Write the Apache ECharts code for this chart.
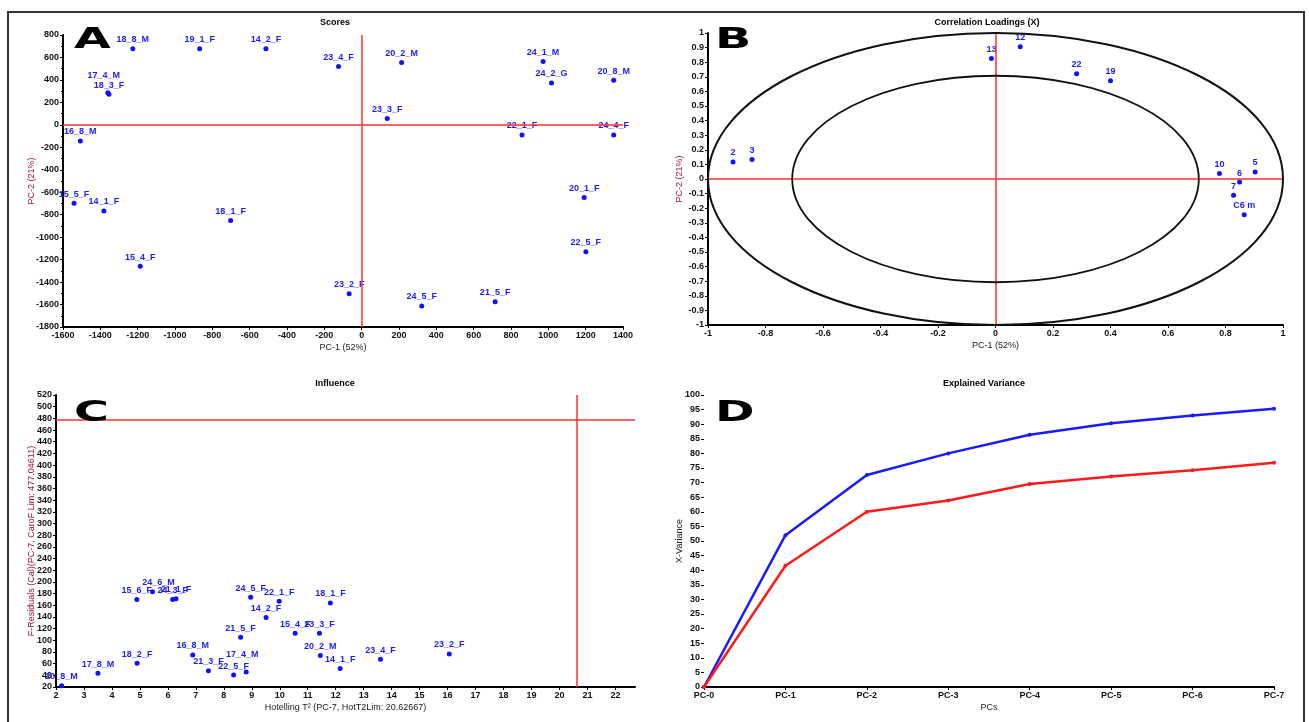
<!DOCTYPE html>
<html>
<head>
<meta charset="utf-8">
<title>PCA overview</title>
<script src="https://cdn.jsdelivr.net/npm/echarts@6/dist/echarts.min.js"></script>
<style>
  html, body { margin: 0; padding: 0; background: #fff; }
  #main { width: 1309px; height: 722px; }
</style>
</head>
<body>
<div id="main"></div>
<script>
// A - Scores
var scoreNames = ['18_8_M', '19_1_F', '14_2_F', '23_4_F', '20_2_M', '24_1_M', '24_2_G', '20_8_M',
  '17_4_M', '18_3_F', '23_3_F', '16_8_M', '22_1_F', '24_4_F', '15_5_F', '14_1_F', '18_1_F',
  '20_1_F', '15_4_F', '22_5_F', '23_2_F', '24_5_F', '21_5_F'];
var scorePc1 = [-1226, -868, -513, -124, 214, 972, 1017, 1350,
  -1360, -1354, 137, -1507, 859, 1350, -1541, -1381, -702,
  1192, -1186, 1201, -67, 322, 715];
var scorePc2 = [678, 678, 678, 519, 555, 564, 373, 397,
  285, 272, 57, -143, -90, -90, -698, -767, -851,
  -648, -1260, -1131, -1504, -1612, -1576];

// B - Correlation loadings
var loadingNames = ['2', '3', '13', '12', '22', '19', '10', '5', '6', '7', 'C6 m'];
var loadingPc1 = [-0.913, -0.847, -0.014, 0.086, 0.282, 0.40, 0.779, 0.903, 0.849, 0.828, 0.865];
var loadingPc2 = [0.117, 0.133, 0.826, 0.906, 0.721, 0.673, 0.037, 0.048, -0.021, -0.112, -0.245];

// C - Influence
var influenceNames = ['20_8_M', '17_8_M', '18_2_F', '15_6_F', '24_6_M', '24_3_F', '21_1_F',
  '24_5_F', '22_1_F', '18_1_F', '14_2_F', '21_5_F', '15_4_F', '23_3_F', '16_8_M', '21_3_F',
  '22_5_F', '17_4_M', '20_2_M', '14_1_F', '23_4_F', '23_2_F'];
var influenceT2 = [2.2, 3.5, 4.9, 4.89, 5.45, 6.17, 6.29,
  8.96, 9.98, 11.81, 9.51, 8.6, 10.55, 11.42, 6.89, 7.45,
  8.35, 8.8, 11.45, 12.16, 13.6, 16.06];
var influenceRes = [22, 43.5, 60.6, 170, 183, 170, 171,
  173.6, 167, 164, 139, 105, 112, 112, 74.8, 48,
  40.5, 45.7, 74, 51.5, 67.6, 76.7];
var resLimit = 477.04611;
var t2Limit = 20.62667;

// D - Explained variance
var pcLabels = ['PC-0', 'PC-1', 'PC-2', 'PC-3', 'PC-4', 'PC-5', 'PC-6', 'PC-7'];
var varCalibration = [0, 52, 72.6, 80, 86.4, 90.3, 93, 95.3];
var varValidation = [0, 41.5, 60, 63.9, 69.5, 72.1, 74.2, 76.8];

var FONT = 'Liberation Sans';
var chart = echarts.init(document.getElementById('main'));

// 轴的通用样式
var axisStyle = function(extra) {
  var base = {
    axisLine: { onZero: false, lineStyle: { color: '#000', width: 2 } },
    axisTick: { show: true, length: 3, lineStyle: { color: '#000' } },
    axisLabel: {
      fontSize: 9, fontWeight: 'bold', color: '#111', fontFamily: FONT, margin: 4,
      formatter: function(v) { return String(v); }
    },
    splitLine: { show: false },
    nameLocation: 'middle',
    nameMoveOverlap: false,
    nameTextStyle: { fontSize: 9, color: '#222', fontFamily: FONT }
  };
  return Object.assign(base, extra);
};

var zip = function(xs, ys, names) {
  return xs.map(function(x, i) { return [x, ys[i], names[i]]; });
};

var pointLabel = {
  show: true,
  position: 'top',
  distance: 2,
  formatter: function(p) { return p.value[2]; },
  fontSize: 9,
  fontWeight: 'bold',
  color: '#1c1cff',
  fontFamily: FONT
};

// 个别重叠标签往上挪一点
var labelShift = { '17_4_M': [-4, -8], '24_6_M': [6, 0] };
var withShift = function(rows) {
  return rows.map(function(r) {
    var off = labelShift[r[2]];
    return off ? { value: r, label: { offset: off } } : r;
  });
};

var crossLines = function(data) {
  return {
    silent: true,
    symbol: 'none',
    label: { show: false },
    lineStyle: { color: '#ff3030', width: 1.5, type: 'solid' },
    data: data
  };
};

var titleStyle = { fontSize: 9, fontWeight: 'bold', color: '#000', fontFamily: FONT };
var redName = { fontSize: 9, color: '#a0103a', fontFamily: FONT };

var option = {
  animation: false,
  backgroundColor: '#fff',
  title: [
    { text: 'Scores', left: 330, top: 13, textAlign: 'center', textStyle: titleStyle },
    { text: 'Correlation Loadings (X)', left: 982, top: 13, textAlign: 'center', textStyle: titleStyle },
    { text: 'Influence', left: 330, top: 374, textAlign: 'center', textStyle: titleStyle },
    { text: 'Explained Variance', left: 979, top: 374, textAlign: 'center', textStyle: titleStyle }
  ],
  grid: [
    { left: 63, top: 35, width: 560, height: 292 },
    { left: 708, top: 33, width: 575, height: 292 },
    { left: 56, top: 395, width: 579, height: 292 },
    { left: 704, top: 395, width: 570, height: 292 }
  ],
  xAxis: [
    axisStyle({ gridIndex: 0, type: 'value', min: -1600, max: 1400, interval: 200,
      name: 'PC-1 (52%)', nameGap: 16 }),
    axisStyle({ gridIndex: 1, type: 'value', min: -1, max: 1, interval: 0.2,
      name: 'PC-1 (52%)', nameGap: 16 }),
    axisStyle({ gridIndex: 2, type: 'value', min: 2, max: 22.7, interval: 1,
      name: 'Hotelling T\u00B2 (PC-7, HotT2Lim: 20.62667)', nameGap: 16,
      axisLabel: { fontSize: 9, fontWeight: 'bold', color: '#111', fontFamily: FONT, margin: 4, showMaxLabel: false } }),
    axisStyle({ gridIndex: 3, type: 'category', data: pcLabels, boundaryGap: false,
      name: 'PCs', nameGap: 16,
      axisLabel: { fontSize: 9, fontWeight: 'bold', color: '#111', fontFamily: FONT, margin: 4 } })
  ],
  yAxis: [
    axisStyle({ gridIndex: 0, type: 'value', min: -1800, max: 800, interval: 200,
      name: 'PC-2 (21%)', nameGap: 27,
      minorTick: { show: true, splitNumber: 2, length: 2, lineStyle: { color: '#000' } },
      nameTextStyle: redName }),
    axisStyle({ gridIndex: 1, type: 'value', min: -1, max: 1, interval: 0.1,
      name: 'PC-2 (21%)', nameGap: 24, nameTextStyle: redName }),
    axisStyle({ gridIndex: 2, type: 'value', min: 20, max: 520, interval: 20,
      name: 'F-Residuals (Cal)(PC-7, CaroF Lim: 477.04611)', nameGap: 20, nameTextStyle: redName }),
    axisStyle({ gridIndex: 3, type: 'value', min: 0, max: 100, interval: 5,
      name: 'X-Variance', nameGap: 20 })
  ],
  series: [
    {
      name: 'Scores', type: 'scatter', xAxisIndex: 0, yAxisIndex: 0,
      symbolSize: 5, itemStyle: { color: '#1010ff', opacity: 1 },
      label: pointLabel,
      data: withShift(zip(scorePc1, scorePc2, scoreNames)),
      markLine: crossLines([{ xAxis: 0 }, { yAxis: 0 }])
    },
    {
      name: 'Loadings', type: 'scatter', xAxisIndex: 1, yAxisIndex: 1,
      symbolSize: 5, itemStyle: { color: '#1010ff', opacity: 1 },
      label: pointLabel,
      data: zip(loadingPc1, loadingPc2, loadingNames),
      markLine: crossLines([{ xAxis: 0 }, { yAxis: 0 }])
    },
    {
      name: 'Influence', type: 'scatter', xAxisIndex: 2, yAxisIndex: 2,
      symbolSize: 5, itemStyle: { color: '#1010ff', opacity: 1 },
      label: pointLabel,
      data: withShift(zip(influenceT2, influenceRes, influenceNames)),
      markLine: crossLines([{ xAxis: t2Limit }, { yAxis: resLimit }])
    },
    {
      name: 'Calibration', type: 'line', xAxisIndex: 3, yAxisIndex: 3,
      symbol: 'circle', symbolSize: 4, showSymbol: true,
      lineStyle: { color: '#1a1aff', width: 2.5 }, itemStyle: { color: '#1a1aff' },
      data: varCalibration
    },
    {
      name: 'Validation', type: 'line', xAxisIndex: 3, yAxisIndex: 3,
      symbol: 'circle', symbolSize: 4, showSymbol: true,
      lineStyle: { color: '#ff1a1a', width: 2.5 }, itemStyle: { color: '#ff1a1a' },
      data: varValidation
    }
  ]
};

chart.setOption(option);

// 大字母面板标记
var panelLetter = function(ch, x, y) {
  return {
    type: 'text', left: x, top: y, scaleX: 1.7, z: 100,
    style: { text: ch, fontSize: 28, fontWeight: 900, fill: '#000', fontFamily: 'DejaVu Sans' }
  };
};

// 相关载荷的 100% 和 50% 解释方差椭圆
var ellipse = function(r, w) {
  var c = chart.convertToPixel({ xAxisIndex: 1, yAxisIndex: 1 }, [0, 0]);
  var e = chart.convertToPixel({ xAxisIndex: 1, yAxisIndex: 1 }, [r, r]);
  return {
    type: 'ellipse', silent: true, z: 5,
    shape: { cx: c[0], cy: c[1], rx: Math.abs(e[0] - c[0]), ry: Math.abs(c[1] - e[1]) },
    style: { fill: null, stroke: '#111', lineWidth: w }
  };
};

chart.setOption({
  graphic: [
    {
      type: 'polyline', silent: true,
      shape: { points: [[8, 722], [8, 12], [1304, 12], [1304, 722]] },
      style: { stroke: '#333', lineWidth: 2, fill: null }
    },
    ellipse(1, 2),
    ellipse(Math.SQRT1_2, 1.8),
    panelLetter('A', 74, 27),
    panelLetter('B', 715, 27),
    panelLetter('C', 74, 400),
    panelLetter('D', 715, 400)
  ]
});
</script>
</body>
</html>
